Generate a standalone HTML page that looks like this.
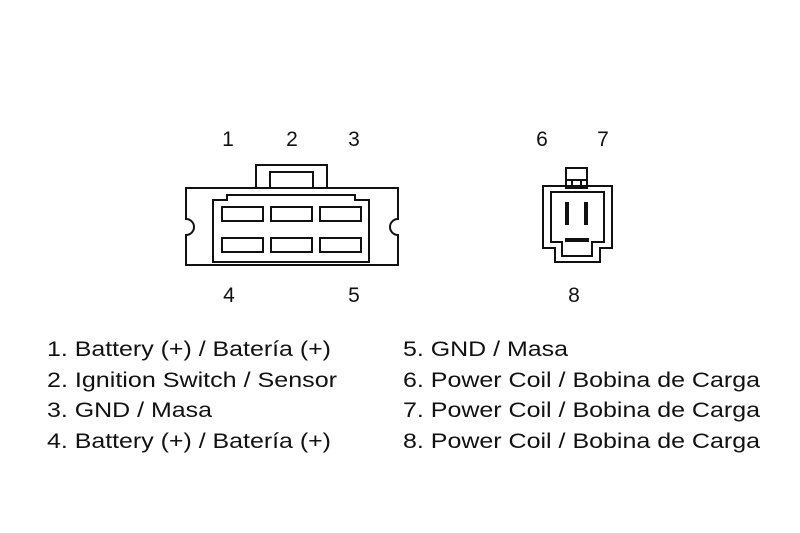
<!DOCTYPE html>
<html><head><style>html,body{margin:0;padding:0;background:#fff;}svg{display:block}</style></head>
<body>
<svg width="800" height="533" viewBox="0 0 800 533" xmlns="http://www.w3.org/2000/svg">
<rect width="800" height="533" fill="#fff"/>
<g fill="none" stroke="#111" stroke-width="2">
<!-- big connector -->
<rect x="256" y="165" width="71" height="23"/>
<rect x="270" y="172" width="43" height="16"/>
<path d="M186 188 H398 V219 A8 8 0 0 0 398 235 V265 H186 V235 A8 8 0 0 0 186 219 Z"/>
<path d="M213 262 V200 H227 V195 H355 V200 H369 V262 Z"/>
<rect x="222" y="207" width="41" height="14"/>
<rect x="271" y="207" width="41" height="14"/>
<rect x="320" y="207" width="41" height="14"/>
<rect x="222" y="238" width="41" height="14"/>
<rect x="271" y="238" width="41" height="14"/>
<rect x="320" y="238" width="41" height="14"/>
<!-- small connector -->
<rect x="566" y="168" width="21" height="20"/>
<path d="M572 180 V188 M581 180 V188 M566 180 H587"/>
<path d="M543 186 H612 V248 H600 V262 H555 V248 H543 Z"/>
<path d="M551 192 H604 V242 H592 V256 H562 V242 H551 Z"/>
</g>
<g fill="#111">
<rect x="565" y="202" width="4" height="23"/>
<rect x="584" y="202" width="4" height="23"/>
<rect x="565" y="238" width="24" height="4"/>
</g>
<g font-family="Liberation Sans, sans-serif" font-size="21" fill="#111" text-anchor="middle">
<text x="228" y="146">1</text><text x="292" y="146">2</text><text x="354" y="146">3</text>
<text x="542" y="146">6</text><text x="603" y="146">7</text>
<text x="229" y="302">4</text><text x="354" y="302">5</text><text x="574" y="302">8</text>
</g>
<g font-family="Liberation Sans, sans-serif" font-size="21" fill="#111">
<text x="47" y="356" textLength="284" lengthAdjust="spacingAndGlyphs">1. Battery (+) / Batería (+)</text>
<text x="47" y="387" textLength="290" lengthAdjust="spacingAndGlyphs">2. Ignition Switch / Sensor</text>
<text x="47" y="417" textLength="165" lengthAdjust="spacingAndGlyphs">3. GND / Masa</text>
<text x="47" y="448" textLength="284" lengthAdjust="spacingAndGlyphs">4. Battery (+) / Batería (+)</text>
<text x="403" y="356" textLength="165" lengthAdjust="spacingAndGlyphs">5. GND / Masa</text>
<text x="403" y="387" textLength="357" lengthAdjust="spacingAndGlyphs">6. Power Coil / Bobina de Carga</text>
<text x="403" y="417" textLength="357" lengthAdjust="spacingAndGlyphs">7. Power Coil / Bobina de Carga</text>
<text x="403" y="448" textLength="357" lengthAdjust="spacingAndGlyphs">8. Power Coil / Bobina de Carga</text>
</g>
</svg>
</body></html>
